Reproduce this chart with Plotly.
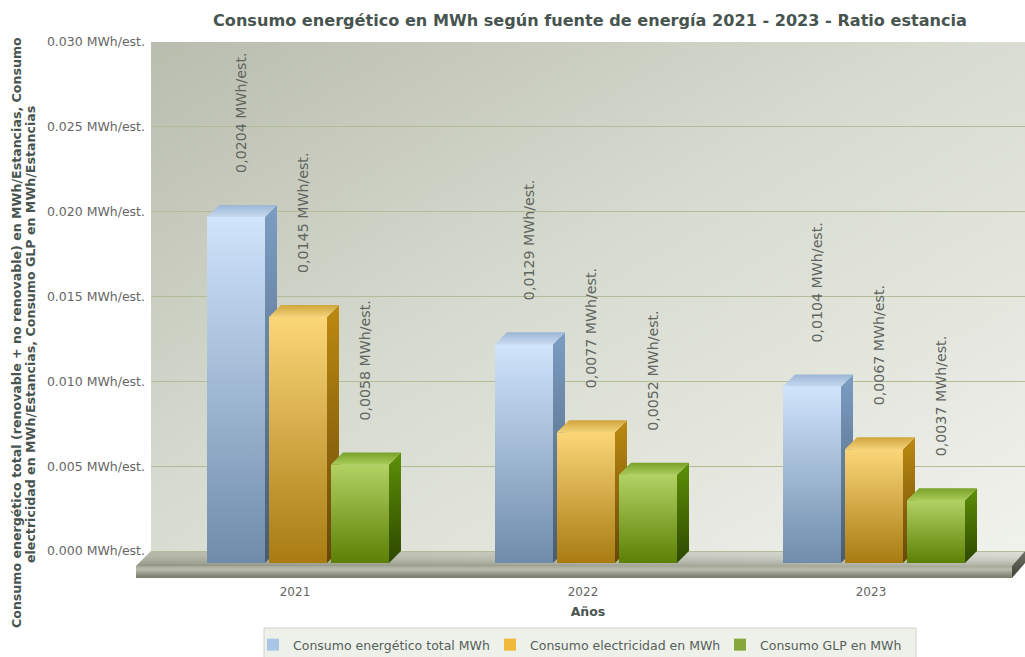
import urllib.parse
import plotly.graph_objects as go

# ---- data ----
years = [2021, 2022, 2023]
series_names = ["Consumo energético total MWh", "Consumo electricidad en MWh", "Consumo GLP en MWh"]
total_values = [0.0204, 0.0129, 0.0104]
electricity_values = [0.0145, 0.0077, 0.0067]
glp_values = [0.0058, 0.0052, 0.0037]
y_ticks = [0, 0.005, 0.01, 0.015, 0.02, 0.025, 0.03]
y_tick_labels = ["0.000 MWh/est.", "0.005 MWh/est.", "0.010 MWh/est.", "0.015 MWh/est.",
                 "0.020 MWh/est.", "0.025 MWh/est.", "0.030 MWh/est."]
label_texts = [
    ["0,0204 MWh/est.", "0,0129 MWh/est.", "0,0104 MWh/est."],
    ["0,0145 MWh/est.", "0,0077 MWh/est.", "0,0067 MWh/est."],
    ["0,0058 MWh/est.", "0,0052 MWh/est.", "0,0037 MWh/est."],
]
title_text = "Consumo energético en MWh según fuente de energía 2021 - 2023 - Ratio estancia"
y_title_lines = ["Consumo energético total (renovable + no renovable) en MWh/Estancias, Consumo",
                 "electricidad en MWh/Estancias, Consumo GLP en MWh/Estancias"]

# ---- styles ----
W, H = 1025, 657
FONT = "DejaVu Sans"
PX_X = 288.0            # pixels per year
PX_Y = 509 / 0.03       # pixels per MWh/est.
DX, DY = 12 / PX_X, 12 / PX_Y    # depth of the 3D bars
BAR_W = 58 / PX_X
OFFSETS = [-88 / PX_X, -26 / PX_X, 36 / PX_X]
LABEL_DX = [-54 / PX_X, 8 / PX_X, 70 / PX_X]
LEGEND_X = [253, 490, 720]
STYLES = [
    dict(swatch="#a9c6e6", front=("#6f8cab", "#d0e4fb"), side=("#4a5b6e", "#7c9dc4"), top=("#9cb6d6", "#c6d9ef")),
    dict(swatch="#f0b93c", front=("#a87b12", "#fbd678"), side=("#66470a", "#bd8a10"), top=("#d0a63c", "#f3d27a")),
    dict(swatch="#86a838", front=("#5c8004", "#b2d264"), side=("#2e4800", "#5d9008"), top=("#78a228", "#aacb5a")),
]
X_LEFT, X_RIGHT = 2020.5, 2020.5 + 874 / PX_X
Y_BOTTOM, Y_TOP = -27 / PX_Y, 0.03
FLOOR_LEFT = X_LEFT - 15 / PX_X
FLOOR_FRONT = -15 / PX_Y


def poly(xs, ys, orientation, stops, start, stop, xa, ya):
    return go.Scatter(
        x=xs + xs[:1], y=ys + ys[:1], mode="lines", line=dict(width=0), fill="toself",
        fillgradient=dict(type=orientation, colorscale=stops, start=start, stop=stop),
        hoverinfo="skip", showlegend=False, xaxis=xa, yaxis=ya,
    )


traces = []
# floor slab (wider lower subplot)
fx0, fx1 = FLOOR_LEFT, X_RIGHT - 13 / PX_X
traces.append(poly([fx0, fx1, X_RIGHT, X_LEFT], [FLOOR_FRONT, FLOOR_FRONT, 0, 0], "horizontal",
                   [[0, "#aeb1a0"], [1, "#d9dbd2"]], fx0, X_RIGHT, "x", "y"))
traces.append(poly([fx0, fx1, X_RIGHT, X_LEFT], [FLOOR_FRONT, FLOOR_FRONT, 0, 0], "vertical",
                   [[0, "rgba(80,82,65,0.32)"], [1, "rgba(255,255,255,0.1)"]], FLOOR_FRONT, 0, "x", "y"))
traces.append(poly([fx0, fx1, fx1, fx0], [Y_BOTTOM, Y_BOTTOM, FLOOR_FRONT, FLOOR_FRONT], "vertical",
                   [[0, "#77796a"], [0.3, "#8f9182"], [0.7, "#b9bbab"], [1, "#a7a998"]],
                   Y_BOTTOM, FLOOR_FRONT, "x", "y"))
traces.append(poly([fx1, X_RIGHT, X_RIGHT, fx1], [Y_BOTTOM, FLOOR_FRONT + 3 / PX_Y, 0, FLOOR_FRONT], "vertical",
                   [[0, "#3f4238"], [1, "#6f7263"]], Y_BOTTOM, 0, "x", "y"))

all_values = [total_values, electricity_values, glp_values]
legend_ids = ["legend", "legend2", "legend3"]
# bars: the real bar marks, with depth faces and gradient faces on top
for name, vals, off, st, lg in zip(series_names, all_values, OFFSETS, STYLES, legend_ids):
    traces.append(go.Bar(x=years, y=vals, base=-DY, width=BAR_W, offset=off, name=name, legend=lg, showlegend=True,
                         marker=dict(color=st["swatch"], line=dict(width=0)),
                         hovertemplate="%{y}<extra>" + name + "</extra>", xaxis="x2", yaxis="y2"))
for vals, off, st in zip(all_values, OFFSETS, STYLES):
    for yr, v in zip(years, vals):
        xl = yr + off
        xr = xl + BAR_W
        top = v - DY
        traces.append(poly([xr, xr + DX, xr + DX, xr], [-DY, 0, v, top], "vertical",
                           [[0, st["side"][0]], [1, st["side"][1]]], -DY, v, "x2", "y2"))
        traces.append(poly([xl, xr, xr + DX, xl + DX], [top, top, v, v], "vertical",
                           [[0, st["top"][1]], [1, st["top"][0]]], top, v, "x2", "y2"))
        traces.append(poly([xl, xr, xr, xl], [-DY, -DY, top, top], "vertical",
                           [[0, st["front"][0]], [1, st["front"][1]]], -DY, top, "x2", "y2"))

annotations = []
for vals, texts, ldx in zip(all_values, label_texts, LABEL_DX):
    for yr, v, t in zip(years, vals, texts):
        annotations.append(dict(x=yr + ldx, y=v, xref="x2", yref="y2", text=t, textangle=-90, showarrow=False,
                                xanchor="center", yanchor="bottom", yshift=30,
                                font=dict(family=FONT, size=14.2, color="#5f655f")))
for line, px, py in zip(y_title_lines, [16, 30], [333, 335]):
    annotations.append(dict(x=px / W, y=1 - py / H, xref="paper", yref="paper", text=line, textangle=-90,
                            showarrow=False, xanchor="center", yanchor="middle",
                            font=dict(family=FONT, size=12.6, color="#47544f", weight="bold")))

svg = ('<svg xmlns="http://www.w3.org/2000/svg" width="874" height="509" preserveAspectRatio="none">'
       '<defs><linearGradient id="g" x1="0" y1="0" x2="1" y2="1">'
       '<stop offset="0" stop-color="#b9bdae"/><stop offset="0.45" stop-color="#d7dacf"/>'
       '<stop offset="1" stop-color="#f0f2ec"/></linearGradient></defs>'
       '<rect width="874" height="509" fill="url(#g)"/></svg>')
bg_src = "data:image/svg+xml," + urllib.parse.quote(svg)


def legend_at(px):
    return dict(orientation="h", x=px / W, xanchor="left", y=1 - 630 / H, yanchor="top",
                bgcolor="rgba(0,0,0,0)", borderwidth=0,
                font=dict(family=FONT, size=12.5, color="#555f5a"))


fig = go.Figure(traces)
fig.update_layout(
    width=W, height=H, autosize=False, margin=dict(l=0, r=0, t=0, b=0, autoexpand=False),
    paper_bgcolor="white", plot_bgcolor="rgba(0,0,0,0)",
    font=dict(family=FONT, size=11, color="#666666"),
    barmode="overlay",
    title=dict(text=title_text, x=590 / W, xanchor="center", y=1 - 20 / H, yanchor="middle",
               font=dict(family=FONT, size=16.1, color="#47544f", weight="bold")),
    xaxis=dict(domain=[136 / W, 1], range=[FLOOR_LEFT, X_RIGHT], visible=False, fixedrange=True),
    yaxis=dict(domain=[1 - 578 / H, 1 - 42 / H], range=[Y_BOTTOM, Y_TOP], visible=False, fixedrange=True),
    xaxis2=dict(domain=[151 / W, 1], range=[X_LEFT, X_RIGHT], anchor="y2", tickvals=years, ticktext=[str(y) for y in years],
                ticks="", showgrid=False, zeroline=False, showline=False, fixedrange=True, ticklabelstandoff=5,
                tickfont=dict(family=FONT, size=12, color="#666666"),
                title=dict(text="Años", standoff=9, font=dict(family=FONT, size=12.5, color="#47544f", weight="bold"))),
    yaxis2=dict(domain=[1 - 578 / H, 1 - 42 / H], range=[Y_BOTTOM, Y_TOP], anchor="x2", tickvals=y_ticks,
                ticktext=y_tick_labels, ticks="", showgrid=True, gridcolor="#b4bb98", gridwidth=1,
                zeroline=False, showline=False, fixedrange=True, ticklabelstandoff=5,
                tickfont=dict(family=FONT, size=12.5, color="#666666")),
    legend=legend_at(LEGEND_X[0]), legend2=legend_at(LEGEND_X[1]), legend3=legend_at(LEGEND_X[2]),
    shapes=[dict(type="rect", xref="paper", yref="paper", x0=264 / W, x1=916 / W, y0=1 - 664 / H, y1=1 - 628 / H,
                 fillcolor="#eef1ea", line=dict(color="#cfd2c6", width=1), layer="below")],
    images=[dict(source=bg_src, xref="paper", yref="paper", x=151 / W, y=1 - 42 / H, sizex=874 / W, sizey=509 / H,
                 xanchor="left", yanchor="top", sizing="stretch", layer="below")],
    annotations=annotations,
)
fig.write_html("out.html", config=dict(displayModeBar=False),
               post_script="document.body.style.margin='0';document.body.style.overflow='hidden';")
